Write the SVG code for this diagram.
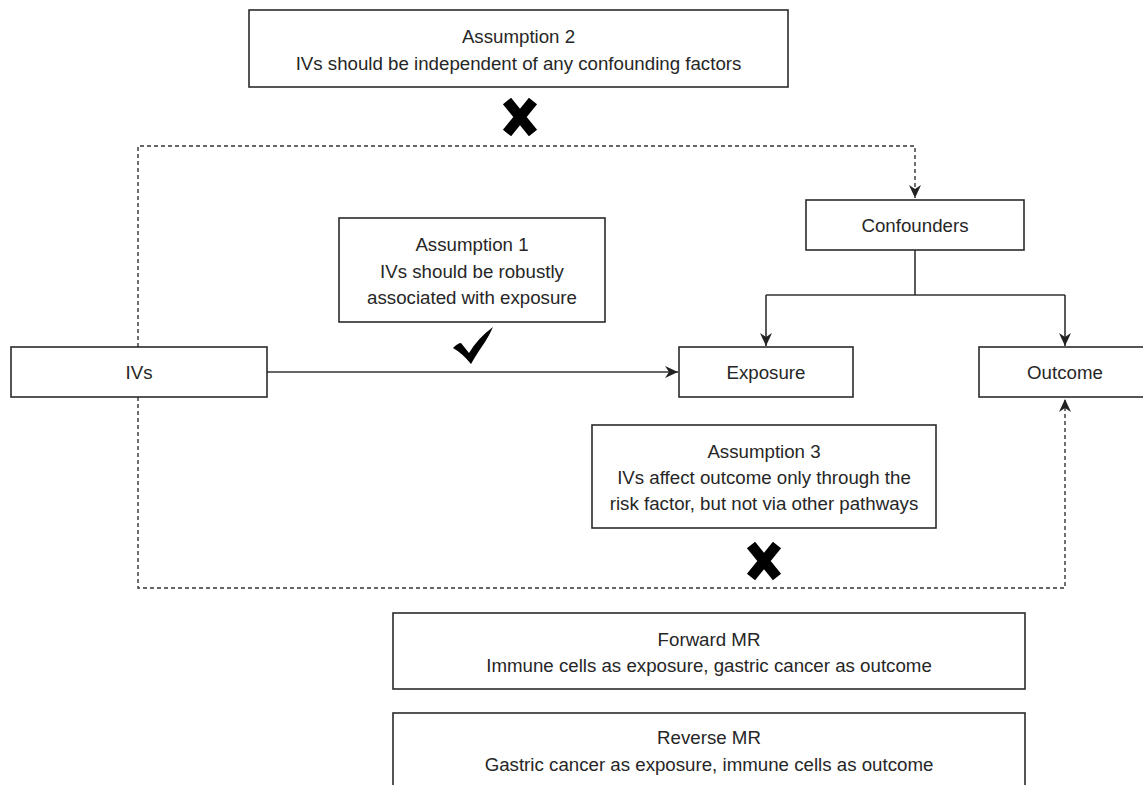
<svg xmlns="http://www.w3.org/2000/svg" xmlns:xlink="http://www.w3.org/1999/xlink" width="1143" height="785" viewBox="0 0 1143 785">
<style>
.box{fill:#fff;stroke:#2b2b2b;stroke-width:1.6}
.t{font-family:"Liberation Sans",Arial,sans-serif;font-size:18.7px;fill:#262626;text-anchor:middle}
.ln{fill:none;stroke:#333;stroke-width:1.6}
.dash{fill:none;stroke:#333;stroke-width:1.4;stroke-dasharray:4 3}
.mark{fill:none;stroke:#000;stroke-width:10.5;stroke-linecap:butt}
</style>
<defs>
<marker id="ah" markerWidth="14" markerHeight="12" refX="13" refY="6" orient="auto" markerUnits="userSpaceOnUse">
<path d="M0,0 L13,6 L0,12 L4,6 Z" fill="#222"/>
</marker>
<g id="xmark">
<path class="mark" d="M-13,-16 L13,16 M13,-16 L-13,16"/>
</g>
</defs>
<rect width="1143" height="785" fill="#fff"/>

<g id="connectors">
<path class="dash" d="M138,347 V146 H915 V198" marker-end="url(#ah)"/>
<path class="dash" d="M138,397 V588 H1065 V399" marker-end="url(#ah)"/>
<path class="ln" d="M267,372 H678" marker-end="url(#ah)"/>
<path class="ln" d="M915,250 V295 M766,295 H1065"/>
<path class="ln" d="M766,295 V346" marker-end="url(#ah)"/>
<path class="ln" d="M1065,295 V346" marker-end="url(#ah)"/>
</g>

<g id="assumption2">
<rect class="box" x="249" y="10" width="539" height="77"/>
<text class="t" x="518.5" y="43">Assumption 2</text>
<text class="t" x="518.5" y="69.5">IVs should be independent of any confounding factors</text>
</g>
<g id="cross1"><use xlink:href="#xmark" href="#xmark" transform="translate(520,117)"/></g>

<g id="confounders">
<rect class="box" x="806" y="200" width="218" height="50"/>
<text class="t" x="915" y="231.5">Confounders</text>
</g>

<g id="assumption1">
<rect class="box" x="339" y="218" width="266" height="104"/>
<text class="t" x="472" y="251">Assumption 1</text>
<text class="t" x="472" y="277.5">IVs should be robustly</text>
<text class="t" x="472" y="304">associated with exposure</text>
</g>
<g id="check">
<path d="M453,348 Q458,343 461,343 L469,353 Q478,338 493,327 Q489,336 485,342 Q476,355 471,364 Q462,353 453,348 Z" fill="#000"/>
</g>

<g id="ivs">
<rect class="box" x="11" y="347" width="256" height="50"/>
<text class="t" x="139" y="378.5">IVs</text>
</g>
<g id="exposure">
<rect class="box" x="679" y="347" width="174" height="50"/>
<text class="t" x="766" y="378.5">Exposure</text>
</g>
<g id="outcome">
<rect class="box" x="979" y="347" width="172" height="50"/>
<text class="t" x="1065" y="378.5">Outcome</text>
</g>

<g id="assumption3">
<rect class="box" x="592" y="425" width="344" height="103"/>
<text class="t" x="764" y="458">Assumption 3</text>
<text class="t" x="764" y="484">IVs affect outcome only through the</text>
<text class="t" x="764" y="510">risk factor, but not via other pathways</text>
</g>
<g id="cross2"><use xlink:href="#xmark" href="#xmark" transform="translate(764,561)"/></g>

<g id="forward">
<rect class="box" x="393" y="613" width="632" height="76"/>
<text class="t" x="709" y="645.5">Forward MR</text>
<text class="t" x="709" y="671.5">Immune cells as exposure, gastric cancer as outcome</text>
</g>
<g id="reverse">
<rect class="box" x="393" y="713" width="632" height="80"/>
<text class="t" x="709" y="743.5">Reverse MR</text>
<text class="t" x="709" y="770.5">Gastric cancer as exposure, immune cells as outcome</text>
</g>
</svg>
